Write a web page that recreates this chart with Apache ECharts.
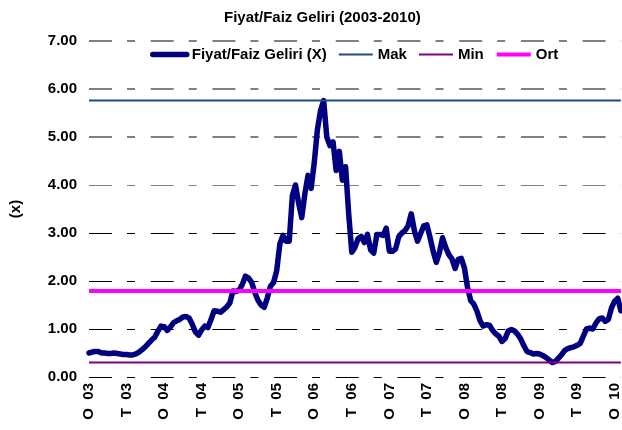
<!DOCTYPE html>
<html>
<head>
<meta charset="utf-8">
<script src="https://cdn.jsdelivr.net/npm/echarts@6/dist/echarts.min.js"></script>
<style>
  html, body { margin: 0; padding: 0; background: #fff; }
  #chart { width: 622px; height: 430px; }
</style>
</head>
<body>
<div id="chart"></div>
<script>
// half-monthly readings, Jan 2003 - Feb 2010
const ratio = [
  0.50, 0.52, 0.53, 0.53, 0.50, 0.50, 0.49, 0.49, 0.50, 0.49,
  0.48, 0.47, 0.47, 0.46, 0.46, 0.48, 0.52, 0.57, 0.63, 0.70,
  0.77, 0.83, 0.95, 1.06, 1.05, 0.97, 1.04, 1.13, 1.17, 1.20,
  1.25, 1.26, 1.23, 1.10, 0.94, 0.87, 0.98, 1.06, 1.03, 1.20,
  1.38, 1.37, 1.35, 1.40, 1.46, 1.54, 1.79, 1.78, 1.81, 1.93,
  2.10, 2.06, 1.97, 1.76, 1.60, 1.50, 1.45, 1.65, 1.89, 1.97,
  2.22, 2.77, 2.95, 2.83, 2.83, 3.78, 4.00, 3.62, 3.32, 3.82,
  4.20, 3.93, 4.47, 5.15, 5.55, 5.76, 5.00, 4.82, 4.90, 4.30,
  4.70, 4.10, 4.38, 3.40, 2.60, 2.70, 2.88, 2.93, 2.80, 2.97,
  2.65, 2.58, 2.97, 2.97, 2.95, 3.10, 2.62, 2.62, 2.67, 2.92,
  3.00, 3.05, 3.15, 3.40, 3.05, 2.83, 2.99, 3.15, 3.17, 2.91,
  2.62, 2.39, 2.59, 2.90, 2.70, 2.55, 2.46, 2.26, 2.45, 2.47,
  2.27, 1.86, 1.59, 1.52, 1.37, 1.17, 1.06, 1.09, 1.08, 0.97,
  0.90, 0.85, 0.74, 0.80, 0.96, 0.99, 0.96, 0.89, 0.79, 0.65,
  0.53, 0.51, 0.48, 0.49, 0.48, 0.45, 0.41, 0.36, 0.30, 0.32,
  0.39, 0.46, 0.55, 0.59, 0.61, 0.63, 0.66, 0.70, 0.85, 1.00,
  1.02, 1.00, 1.12, 1.21, 1.23, 1.16, 1.20, 1.44, 1.58, 1.64,
  1.38
];
const mak = 5.76;
const min = 0.30;
const ort = 1.79;
const tickLabels = ['O 03', 'T 03', 'O 04', 'T 04', 'O 05', 'T 05', 'O 06', 'T 06',
  'O 07', 'T 07', 'O 08', 'T 08', 'O 09', 'T 09', 'O 10'];

const categories = [];
for (let i = 0; i < ratio.length; i++) {
  const y = 2003 + Math.floor(i / 24);
  const m = Math.floor((i % 24) / 2) + 1;
  categories.push(y + '-' + String(m).padStart(2, '0') + (i % 2 ? '-16' : '-01'));
}

const font = 'Arial, "Liberation Sans", sans-serif';
const bold = { fontSize: 15, fontWeight: 'bold', color: '#000', fontFamily: font };
const dash = [23, 15, 8, 15.7];
const clear = 'rgba(0,0,0,0)';
const chart = echarts.init(document.getElementById('chart'));

chart.setOption({
  animation: false,
  title: {
    text: 'Fiyat/Faiz Geliri (2003-2010)',
    left: 219,
    top: 5,
    textStyle: bold
  },
  legend: {
    left: 145,
    top: 42,
    itemWidth: 34,
    itemHeight: 14,
    itemGap: 11,
    lineStyle: { width: 'inherit' },
    itemStyle: { opacity: 0 },
    textStyle: bold
  },
  grid: { left: 78, right: 1, top: 41, bottom: 53 },
  xAxis: {
    type: 'category',
    boundaryGap: false,
    data: categories,
    axisLine: { show: false },
    axisTick: { show: false },
    splitLine: { show: false },
    axisLabel: Object.assign({
      rotate: 90,
      margin: 6,
      interval: (idx) => idx % 12 === 0,
      formatter: (v, idx) => (tickLabels[Math.round(idx / 12)] || '').replace(' ', '  ')
    }, bold)
  },
  yAxis: [
    {
      type: 'value',
      min: 0,
      max: 7,
      interval: 1,
      name: '(x)',
      nameLocation: 'middle',
      nameRotate: 90,
      nameGap: 66,
      nameTextStyle: bold,
      axisLine: { show: false },
      axisTick: { show: false },
      axisLabel: Object.assign({ margin: 12, formatter: (v) => v.toFixed(2) }, bold),
      splitLine: {
        lineStyle: {
          type: dash,
          width: 1,
          color: ['#000', '#000', '#000', '#000', '#808080', clear, clear, clear]
        }
      }
    },
    {
      // heavier grey gridlines at the top of the plot
      type: 'value',
      min: 0,
      max: 7,
      interval: 1,
      position: 'left',
      axisLine: { show: false },
      axisTick: { show: false },
      axisLabel: { show: false },
      splitLine: {
        lineStyle: {
          type: dash,
          width: 2,
          color: [clear, clear, clear, clear, clear, '#808080', '#808080', '#808080']
        }
      }
    }
  ],
  series: [
    {
      name: 'Fiyat/Faiz Geliri (X)',
      type: 'line',
      data: ratio,
      symbol: 'none',
      lineStyle: { width: 5.5, color: '#000080', join: 'round', cap: 'round' },
      itemStyle: { color: '#000080' }
    },
    {
      name: 'Mak',
      type: 'line',
      data: categories.map(() => mak),
      symbol: 'none',
      lineStyle: { width: 2, color: '#1F4E79' },
      itemStyle: { color: '#1F4E79' }
    },
    {
      name: 'Min',
      type: 'line',
      data: categories.map(() => min),
      symbol: 'none',
      lineStyle: { width: 2, color: '#800080' },
      itemStyle: { color: '#800080' }
    },
    {
      name: 'Ort',
      type: 'line',
      data: categories.map(() => ort),
      symbol: 'none',
      lineStyle: { width: 4, color: '#FF00FF' },
      itemStyle: { color: '#FF00FF' }
    }
  ]
});
</script>
</body>
</html>
